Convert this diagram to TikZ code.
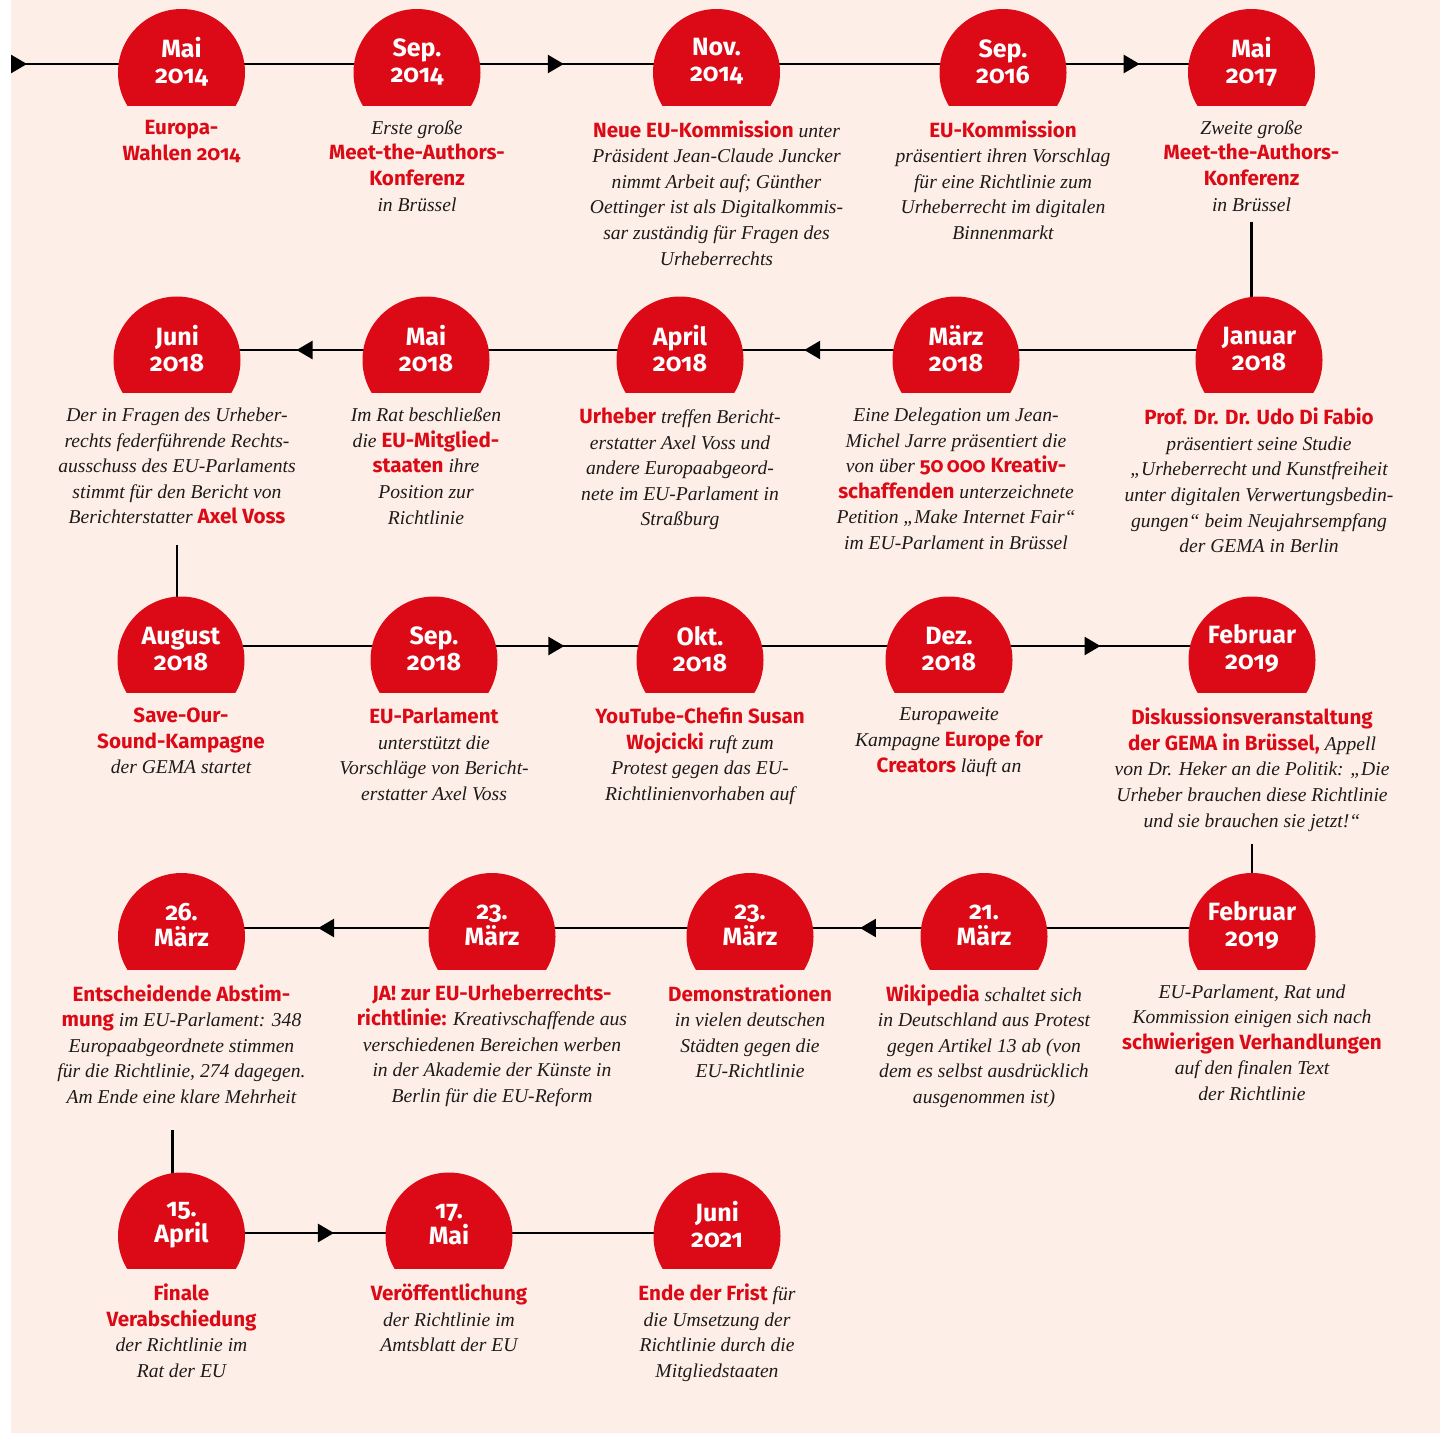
\documentclass[tikz,border=0pt]{standalone}
\usepackage{fontspec}
\setmainfont{Liberation Serif}
\newfontfamily\headfont[Numbers=OldStyle,RawFeature=+onum]{Fira Sans}
\usetikzlibrary{arrows.meta,decorations.markings,calc}

\definecolor{gemared}{RGB}{219,10,22}
\definecolor{papier}{RGB}{253,239,231}
\definecolor{schrift}{RGB}{30,26,26}

\pgfdeclarelayer{hinten}
\pgfdeclarelayer{linien}
\pgfsetlayers{hinten,linien,main}

% red bold words inside the italic notes
\newcommand\hervor[1]{{\color{gemared}\upshape\headfont\bfseries\fontsize{10.3}{12.8}\selectfont #1}}

% name, x, y of the line, y of the circle centre, date, note
\newcommand\datum[6]{%
  \begin{scope}
    \clip (#2-70,#4-70) rectangle (#2+70,#4+32.5);
    \fill[gemared] (#2,#4) circle (31.75pt);
  \end{scope}
  \coordinate (#1) at (#2,#3);
  \node[datumtext] (#1-dat) at (#2,#4-11) {#5};
  \node[beschreibung] (#1-txt) at (#2,#4+47.5) {#6};
}

\begin{document}
\begin{tikzpicture}[x=0.5pt,y=-0.5pt,
  datumtext/.style={text=white,font=\headfont\bfseries\fontsize{12.5}{13}\selectfont,align=center,inner sep=0},
  beschreibung/.style={anchor=north,text=schrift,font=\itshape\fontsize{9.8}{12.8}\selectfont,align=center,inner sep=0},
  zeitlinie/.style={line width=1.3pt},
  pfeil/.style={postaction={decorate,decoration={markings,mark=at position #1 with {\arrow{Triangle[length=8pt,width=9pt]}}}}}]

  \useasboundingbox (0,0) rectangle (1440,1435);
  \begin{pgfonlayer}{hinten}
    \fill[white] (0,0) rectangle (1440,1435);
    \fill[papier] (11,0) rectangle (1440,1433);
  \end{pgfonlayer}

  % row 1
  \datum{mai14}{181.5}{64}{72.5}{Mai\\2014}{\hervor{Europa-}\\\hervor{Wahlen 2014}}
  \datum{sep14}{417}{64}{72.5}{Sep.\\2014}{Erste große\\\hervor{Meet-the-Authors-}\\\hervor{Konferenz}\\in Brüssel}
  \datum{nov14}{716.5}{64}{72.5}{Nov.\\2014}{\hervor{Neue EU-Kommission} unter\\Präsident Jean-Claude Juncker\\nimmt Arbeit auf; Günther\\Oettinger ist als Digitalkommis-\\sar zuständig für Fragen des\\Urheberrechts}
  \datum{sep16}{1003}{64}{72.5}{Sep.\\2016}{\hervor{EU-Kommission}\\präsentiert ihren Vorschlag\\für eine Richtlinie zum\\Urheberrecht im digitalen\\Binnenmarkt}
  \datum{mai17}{1251.5}{64}{72.5}{Mai\\2017}{Zweite große\\\hervor{Meet-the-Authors-}\\\hervor{Konferenz}\\in Brüssel}

  % row 2
  \datum{jun18}{177}{350}{360}{Juni\\2018}{Der in Fragen des Urheber-\\rechts federführende Rechts-\\ausschuss des EU-Parlaments\\stimmt für den Bericht von\\Berichterstatter \hervor{Axel Voss}}
  \datum{mai18}{426}{350}{360}{Mai\\2018}{Im Rat beschließen\\die \hervor{EU-Mitglied-}\\\hervor{staaten} ihre\\Position zur\\Richtlinie}
  \datum{apr18}{680}{350}{360}{April\\2018}{\hervor{Urheber} treffen Bericht-\\erstatter Axel Voss und\\andere Europaabgeord-\\nete im EU-Parlament in\\Straßburg}
  \datum{mrz18}{956}{350}{360}{März\\2018}{Eine Delegation um Jean-\\Michel Jarre präsentiert die\\von über \hervor{50\,000 Kreativ-}\\\hervor{schaffenden} unterzeichnete\\Petition „Make Internet Fair“\\im EU-Parlament in Brüssel}
  \datum{jan18}{1259}{350}{360}{Januar\\2018}{\hervor{Prof. Dr. Dr. Udo Di Fabio}\\präsentiert seine Studie\\„Urheberrecht und Kunstfreiheit\\unter digitalen Verwertungsbedin-\\gungen“ beim Neujahrsempfang\\der GEMA in Berlin}

  % row 3
  \datum{aug18}{181}{646}{660}{August\\2018}{\hervor{Save-Our-}\\\hervor{Sound-Kampagne}\\der GEMA startet}
  \datum{sep18}{434}{646}{660}{Sep.\\2018}{\hervor{EU-Parlament}\\unterstützt die\\Vorschläge von Bericht-\\erstatter Axel Voss}
  \datum{okt18}{700}{646}{660}{Okt.\\2018}{\hervor{YouTube-Chefin Susan}\\\hervor{Wojcicki} ruft zum\\Protest gegen das EU-\\Richtlinienvorhaben auf}
  \datum{dez18}{949}{646}{660}{Dez.\\2018}{Europaweite\\Kampagne \hervor{Europe for}\\\hervor{Creators} läuft an}
  \datum{feb19}{1252}{646}{660}{Februar\\2019}{\hervor{Diskussionsveranstaltung}\\\hervor{der GEMA in Brüssel,} Appell\\von Dr. Heker an die Politik: „Die\\Urheber brauchen diese Richtlinie\\und sie brauchen sie jetzt!“}

  % row 4
  \datum{mrz26}{181.5}{928}{936.5}{26.\\März}{\hervor{Entscheidende Abstim-}\\\hervor{mung} im EU-Parlament: 348\\Europaabgeordnete stimmen\\für die Richtlinie, 274 dagegen.\\Am Ende eine klare Mehrheit}
  \datum{mrz23b}{492}{928}{936.5}{23.\\März}{\hervor{JA! zur EU-Urheberrechts-}\\\hervor{richtlinie:} Kreativschaffende aus\\verschiedenen Bereichen werben\\in der Akademie der Künste in\\Berlin für die EU-Reform}
  \datum{mrz23a}{750}{928}{936.5}{23.\\März}{\hervor{Demonstrationen}\\in vielen deutschen\\Städten gegen die\\EU-Richtlinie}
  \datum{mrz21}{984}{928}{936.5}{21.\\März}{\hervor{Wikipedia} schaltet sich\\in Deutschland aus Protest\\gegen Artikel 13 ab (von\\dem es selbst ausdrücklich\\ausgenommen ist)}
  \datum{feb19e}{1252}{928}{936.5}{Februar\\2019}{EU-Parlament, Rat und\\Kommission einigen sich nach\\\hervor{schwierigen Verhandlungen}\\auf den finalen Text\\der Richtlinie}

  % row 5
  \datum{apr19}{181.5}{1233}{1236}{15.\\April}{\hervor{Finale}\\\hervor{Verabschiedung}\\der Richtlinie im\\Rat der EU}
  \datum{mai19}{449}{1233}{1236}{17.\\Mai}{\hervor{Veröffentlichung}\\der Richtlinie im\\Amtsblatt der EU}
  \datum{jun21}{717}{1233}{1236}{Juni\\2021}{\hervor{Ende der Frist} für\\die Umsetzung der\\Richtlinie durch die\\Mitgliedstaaten}

  \coordinate (start) at (11,64);

  \begin{pgfonlayer}{linien}
    \draw[zeitlinie,pfeil=8pt] (start) -- (mai14);
    \draw[zeitlinie] (mai14) -- (sep14);
    \draw[zeitlinie,pfeil=0.49] (sep14) -- (nov14);
    \draw[zeitlinie] (nov14) -- (sep16);
    \draw[zeitlinie,pfeil=0.55] (sep16) -- (mai17);
    \draw[zeitlinie] ([yshift=-5pt]mai17-txt.south) -- (mai17-txt.south |- jan18);

    \draw[zeitlinie] (jan18) -- (mrz18);
    \draw[zeitlinie,pfeil=0.55] (mrz18) -- (apr18);
    \draw[zeitlinie] (apr18) -- (mai18);
    \draw[zeitlinie,pfeil=0.52] (mai18) -- (jun18);
    \draw[zeitlinie] ([yshift=-10pt]jun18-txt.south) -- (jun18-txt.south |- aug18);

    \draw[zeitlinie] (aug18) -- (sep18);
    \draw[zeitlinie,pfeil=0.49] (sep18) -- (okt18);
    \draw[zeitlinie] (okt18) -- (dez18);
    \draw[zeitlinie,pfeil=0.5] (dez18) -- (feb19);
    \draw[zeitlinie] ([yshift=-6pt]feb19-txt.south) -- (feb19-txt.south |- feb19e);

    \draw[zeitlinie] (feb19e) -- (mrz21);
    \draw[zeitlinie,pfeil=0.53] (mrz21) -- (mrz23a);
    \draw[zeitlinie] (mrz23a) -- (mrz23b);
    \draw[zeitlinie,pfeil=0.56] (mrz23b) -- (mrz26);
    \draw[zeitlinie] ($(mrz26-txt.south)+(-9,26)$) -- ($(mrz26-txt.south |- apr19)+(-9,0)$);

    \draw[zeitlinie,pfeil=0.57] (apr19) -- (mai19);
    \draw[zeitlinie] (mai19) -- (jun21);
  \end{pgfonlayer}
\end{tikzpicture}
\end{document}
